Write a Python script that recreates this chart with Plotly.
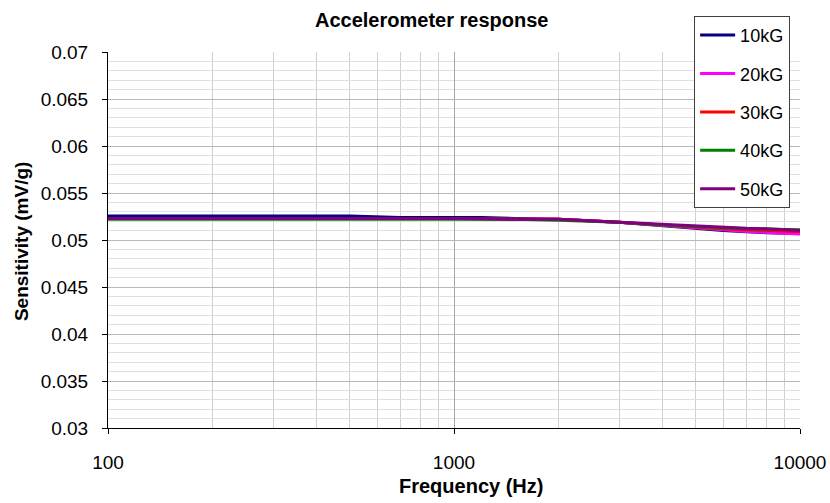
import plotly.graph_objects as go

# Frequency sweep points (Hz)
freq_hz = [100, 200, 300, 500, 700, 1000, 1200, 1500, 2000, 3000, 4000, 5000, 6000, 7000, 8000, 10000]

# Sensitivity (mV/g) per field strength
sens_10kg = [0.05255, 0.05255, 0.05255, 0.05255, 0.0524, 0.0524, 0.0524, 0.0523, 0.0522, 0.0519, 0.0515, 0.05125, 0.0510, 0.05088, 0.05078, 0.0507]
sens_20kg = [0.0523, 0.0523, 0.0523, 0.0523, 0.0523, 0.0523, 0.0522, 0.0522, 0.0522, 0.0519, 0.0516, 0.0513, 0.0511, 0.0509, 0.0508, 0.05065]
sens_30kg = [0.0523, 0.0523, 0.0523, 0.0523, 0.0523, 0.0523, 0.0523, 0.0522, 0.0522, 0.0519, 0.0516, 0.0514, 0.0512, 0.0511, 0.0510, 0.0509]
sens_40kg = [0.0522, 0.0522, 0.0522, 0.0522, 0.0522, 0.0522, 0.0522, 0.0522, 0.0521, 0.0519, 0.0516, 0.0514, 0.0513, 0.0512, 0.05115, 0.0511]
sens_50kg = [0.0523, 0.0523, 0.0523, 0.0523, 0.0523, 0.0523, 0.0523, 0.0522, 0.0522, 0.0519, 0.05167, 0.0515, 0.05135, 0.05125, 0.0512, 0.0510]

series_names = ["10kG", "20kG", "30kG", "40kG", "50kG"]
series_values = [sens_10kg, sens_20kg, sens_30kg, sens_40kg, sens_50kg]
series_colors = ["#000080", "#FF00FF", "#FF0000", "#008000", "#800080"]

y_ticks = [0.03, 0.035, 0.04, 0.045, 0.05, 0.055, 0.06, 0.065, 0.07]
y_tick_labels = ["0.03", "0.035", "0.04", "0.045", "0.05", "0.055", "0.06", "0.065", "0.07"]
x_ticks = [100, 1000, 10000]
x_tick_labels = ["100", "1000", "10000"]
x_minor = [200, 300, 400, 500, 600, 700, 800, 900,
           2000, 3000, 4000, 5000, 6000, 7000, 8000, 9000]

FONT = "Liberation Sans, Arial, sans-serif"

fig = go.Figure()
for name, vals, color in zip(series_names, series_values, series_colors):
    fig.add_trace(go.Scatter(
        x=freq_hz, y=vals, mode="lines", name=name,
        legendgroup=name,
        line=dict(color=color, width=3),
    ))

fig.update_layout(
    width=830, height=503,
    margin=dict(l=108, r=30, t=52, b=75),
    paper_bgcolor="white",
    plot_bgcolor="white",
    font=dict(family=FONT, color="black"),
    showlegend=True,
    legend=dict(
        x=0.847, y=1.096, xanchor="left", yanchor="top",
        bgcolor="white", bordercolor="#404040", borderwidth=1,
        font=dict(size=18, family=FONT),
        tracegroupgap=12,
        traceorder="grouped",
        itemwidth=35,
    ),
    xaxis=dict(
        type="log", range=[2, 4], automargin=False,
        tickvals=x_ticks, ticktext=x_tick_labels,
        tickfont=dict(size=19),
        ticks="outside", ticklen=5, tickcolor="black",
        ticklabelstandoff=12,
        showline=True, linecolor="black", linewidth=1,
        showgrid=True, gridcolor="#a6a6a6", gridwidth=1,
        minor=dict(tickvals=x_minor, showgrid=True, gridcolor="#d0d0d0", ticks=""),
        zeroline=False,
    ),
    yaxis=dict(
        range=[0.03, 0.07], automargin=False,
        tickvals=y_ticks, ticktext=y_tick_labels,
        tickfont=dict(size=19),
        ticks="outside", ticklen=5, tickcolor="black",
        ticklabelstandoff=10,
        showline=True, linecolor="black", linewidth=1,
        showgrid=True, gridcolor="#b8b8b8", gridwidth=1,
        minor=dict(dtick=0.001, showgrid=True, gridcolor="#e0e0e0", ticks=""),
        zeroline=False,
    ),
    annotations=[
        dict(text="<b>Accelerometer response</b>", xref="paper", yref="paper",
             x=0.467, y=1.086, xanchor="center", yanchor="middle",
             showarrow=False, font=dict(size=20, family=FONT)),
        dict(text="<b>Frequency (Hz)</b>", xref="paper", yref="paper",
             x=0.524, y=-0.154, xanchor="center", yanchor="middle",
             showarrow=False, font=dict(size=20, family=FONT)),
        dict(text="<b>Sensitivity (mV/g)</b>", xref="paper", yref="paper",
             x=-0.124, y=0.495, xanchor="center", yanchor="middle",
             textangle=-90, showarrow=False, font=dict(size=19, family=FONT)),
    ],
)

fig.write_html("out.html")
